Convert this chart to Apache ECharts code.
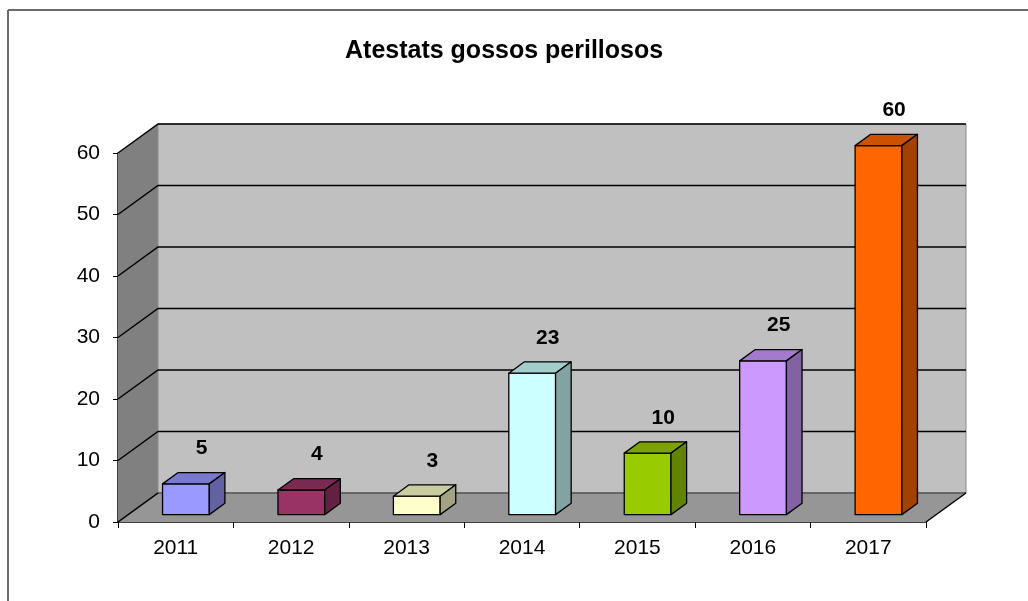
<!DOCTYPE html>
<html>
<head>
<meta charset="utf-8">
<script src="https://cdn.jsdelivr.net/npm/echarts@6/dist/echarts.min.js"></script>
<style>
html,body{margin:0;padding:0;background:#fff;}
#main{width:1028px;height:601px;}
</style>
</head>
<body>
<div id="main"></div>
<script>
// dades
var anys = ['2011', '2012', '2013', '2014', '2015', '2016', '2017'];
var valors = [5, 4, 3, 23, 10, 25, 60];
var colors = ['#9999FF', '#993366', '#FFFFCC', '#CCFFFF', '#99CC00', '#CC99FF', '#FF6600'];
var yTicks = [0, 10, 20, 30, 40, 50, 60];

// profunditat del "3d"
var DX = 40, DY = -29;
var barFront = 0.255, barDepth = 0.39, barWidth = 0.405;

function shade(hex, f){
	var c = echarts.color.parse(hex);
	return 'rgb(' + Math.round(c[0]*f) + ',' + Math.round(c[1]*f) + ',' + Math.round(c[2]*f) + ')';
}

var myChart = echarts.init(document.getElementById('main'));

//parets i fons
var renderWalls = function(params, api){
	var cs = params.coordSys;
	var x0 = cs.x, x1 = cs.x + cs.width;
	var yB = api.coord([0, 0])[1];
	var yT = api.coord([0, 60])[1];
	var items = [];
	items.push({type:'polygon', shape:{points:[[x0,yB],[x0,yT],[x0+DX,yT+DY],[x0+DX,yB+DY]]}, style:{fill:'#808080'}});
	items.push({type:'polygon', shape:{points:[[x0,yB],[x1,yB],[x1+DX,yB+DY],[x0+DX,yB+DY]]}, style:{fill:'#969696'}});
	items.push({type:'rect', shape:{x:x0+DX, y:yT+DY, width:x1-x0, height:yB-yT}, style:{fill:'#C0C0C0', stroke:'#8a8a8a', lineWidth:1}});
	for(var i = 0; i < yTicks.length; i++){
		var y = api.coord([0, yTicks[i]])[1];
		items.push({type:'polyline', shape:{points:[[x0,y],[x0+DX,y+DY],[x1+DX,y+DY]]},
			style:{stroke: yTicks[i] == 0 ? '#555' : '#000', lineWidth:1.5, fill:null}});
	}
	items.push({type:'line', shape:{x1:x0, y1:yB, x2:x0+DX, y2:yB+DY}, style:{stroke:'#000', lineWidth:1.5}});
	items.push({type:'line', shape:{x1:x1, y1:yB, x2:x1+DX, y2:yB+DY}, style:{stroke:'#000', lineWidth:1.5}});
	return {type:'group', children:items};
};

//barres
var renderBar = function(params, api){
	var i = api.value(0);
	var v = api.value(1);
	var base = api.coord([i, 0]);
	var top = api.coord([i, v]);
	var w = api.size([1, 0])[0] * barWidth;
	var ox = DX * barFront, oy = DY * barFront;
	var bx = DX * barDepth, by = DY * barDepth;
	var xl = base[0] + ox - w/2, xr = base[0] + ox + w/2;
	var yt = top[1] + oy, yb = base[1] + oy;
	var col = colors[i];
	var st = {stroke:'#000', lineWidth:1.3, lineJoin:'round'};
	return {type:'group', children:[
		{type:'rect', shape:{x:xl, y:yt, width:w, height:yb-yt}, style:echarts.util.extend({fill:col}, st)},
		{type:'polygon', shape:{points:[[xl,yt],[xr,yt],[xr+bx,yt+by],[xl+bx,yt+by]]}, style:echarts.util.extend({fill:shade(col,0.8)}, st)},
		{type:'polygon', shape:{points:[[xr,yt],[xr+bx,yt+by],[xr+bx,yb+by],[xr,yb]]}, style:echarts.util.extend({fill:shade(col,0.64)}, st)},
		{type:'text', style:{text:String(v), x:base[0]+ox+bx, y:yt+by-24, align:'center', verticalAlign:'middle',
			font:'bold 21px "Liberation Sans", Arial, sans-serif', fill:'#000'}}
	]};
};

var barData = [];
for(var i in valors){
	barData.push([Number(i), valors[i]]);
}

var option = {
	animation: false,
	backgroundColor: '#fff',
	title: {
		text: 'Atestats gossos perillosos',
		left: 340,
		top: 34,
		textStyle: {fontFamily:'"Liberation Sans", Arial, sans-serif', fontSize:25, fontWeight:'bold', color:'#000'}
	},
	graphic: [
		{type:'line', shape:{x1:8, y1:10, x2:1028, y2:10}, style:{stroke:'#6b6b6b', lineWidth:2}},
		{type:'line', shape:{x1:8, y1:10, x2:8, y2:601}, style:{stroke:'#6b6b6b', lineWidth:2}}
	],
	grid: {left:118, right:102, top:153, bottom:79},
	xAxis: {
		type: 'category',
		data: anys,
		boundaryGap: true,
		axisLine: {lineStyle:{color:'#000', width:1.5}},
		axisTick: {show:true, interval:0, length:6, lineStyle:{color:'#000'}},
		axisLabel: {margin:16, fontSize:21, color:'#000', fontFamily:'"Liberation Sans", Arial, sans-serif'}
	},
	yAxis: {
		type: 'value',
		min: 0, max: 60, interval: 10,
		axisLine: {show:true, lineStyle:{color:'#000', width:1.5}},
		axisTick: {show:true, length:5, lineStyle:{color:'#000'}},
		splitLine: {show:false},
		axisLabel: {margin:18, fontSize:21, color:'#000', fontFamily:'"Liberation Sans", Arial, sans-serif'}
	},
	series: [
		{type:'custom', name:'fons', renderItem:renderWalls, data:[[0,0]], clip:false, silent:true, z:1},
		{type:'custom', name:'Atestats', renderItem:renderBar, data:barData, encode:{x:0, y:1}, clip:false, z:3}
	]
};
myChart.setOption(option);
</script>
</body>
</html>
